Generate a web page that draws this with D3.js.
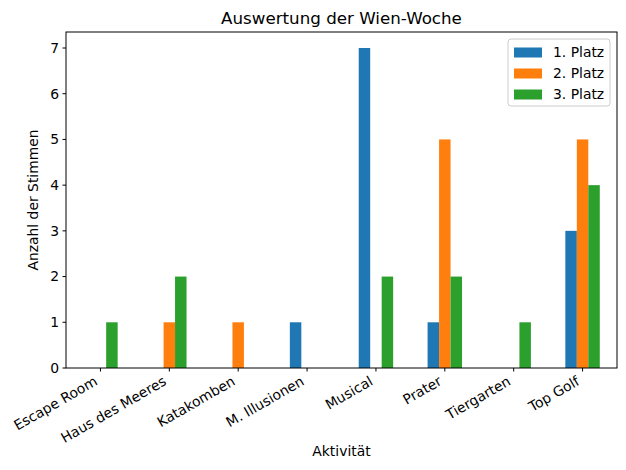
<!DOCTYPE html>
<html>
<head>
<meta charset="utf-8">
<script src="https://cdn.jsdelivr.net/npm/d3@7"></script>
<style>
  body { margin: 0; background: #fff; }
  svg { font-family: "DejaVu Sans", sans-serif; }
</style>
</head>
<body>
<svg id="chart" width="626" height="470"></svg>
<script>
const categories = ["Escape Room", "Haus des Meeres", "Katakomben", "M. Illusionen", "Musical", "Prater", "Tiergarten", "Top Golf"];
const seriesNames = ["1. Platz", "2. Platz", "3. Platz"];
const platz1 = [0, 0, 0, 1, 7, 1, 0, 3];
const platz2 = [0, 1, 1, 0, 0, 5, 0, 5];
const platz3 = [1, 2, 0, 0, 2, 2, 1, 4];
const yTicks = [0, 1, 2, 3, 4, 5, 6, 7];
const colors = ["#1f77b4", "#ff7f0e", "#2ca02c"];

const svg = d3.select("#chart");
const margin = { left: 66, right: 9, top: 32, bottom: 102 };
const width = 626 - margin.left - margin.right;
const height = 470 - margin.top - margin.bottom;
const fs = 13.9;

const series = [platz1, platz2, platz3];

// x: positions 0..7 with half-unit padding like pandas
const x = d3.scaleLinear().domain([-0.5, categories.length - 0.5]).range([0, width]);
const y = d3.scaleLinear().domain([0, 7 * 1.05]).range([height, 0]);

const g = svg.append("g").attr("transform", `translate(${margin.left},${margin.top})`);

const barW = 0.5 / series.length;
series.forEach((vals, j) => {
  g.selectAll(".bar" + j)
    .data(vals.map((v, i) => ({ v, i })))
    .enter()
    .append("rect")
    .attr("x", d => x(d.i - 0.25 + j * barW))
    .attr("width", x(barW) - x(0))
    .attr("y", d => y(d.v))
    .attr("height", d => y(0) - y(d.v))
    .attr("fill", colors[j]);
});

// frame
g.append("rect")
  .attr("width", width).attr("height", height)
  .attr("fill", "none").attr("stroke", "#000").attr("stroke-width", 1);

// y axis
const yAxis = g.append("g");
yTicks.forEach(t => {
  yAxis.append("line")
    .attr("x1", -3.5).attr("x2", 0)
    .attr("y1", y(t)).attr("y2", y(t))
    .attr("stroke", "#000");
  yAxis.append("text")
    .attr("x", -7).attr("y", y(t))
    .attr("dy", "0.35em")
    .attr("text-anchor", "end")
    .attr("font-size", fs)
    .text(t);
});

// x axis
const xAxis = g.append("g").attr("transform", `translate(0,${height})`);
categories.forEach((c, i) => {
  xAxis.append("line")
    .attr("x1", x(i)).attr("x2", x(i))
    .attr("y1", 0).attr("y2", 3.5)
    .attr("stroke", "#000");
  xAxis.append("text")
    .attr("transform", `translate(${x(i) - 2},${16}) rotate(-30)`)
    .attr("text-anchor", "end")
    .attr("font-size", fs)
    .text(c);
});

// titles
svg.append("text")
  .attr("x", margin.left + width / 2).attr("y", 24)
  .attr("text-anchor", "middle")
  .attr("font-size", 16.7)
  .text("Auswertung der Wien-Woche");

svg.append("text")
  .attr("x", margin.left + width / 2).attr("y", 456)
  .attr("text-anchor", "middle")
  .attr("font-size", fs)
  .text("Aktivität");

svg.append("text")
  .attr("transform", `translate(38,${margin.top + height / 2}) rotate(-90)`)
  .attr("text-anchor", "middle")
  .attr("font-size", fs)
  .text("Anzahl der Stimmen");

// legend
const legend = svg.append("g").attr("transform", "translate(508,39)");
legend.append("rect")
  .attr("width", 102).attr("height", 67)
  .attr("rx", 3).attr("ry", 3)
  .attr("fill", "#fff").attr("fill-opacity", 0.8)
  .attr("stroke", "#cccccc");
seriesNames.forEach((name, j) => {
  const ly = 12 + j * 21;
  legend.append("rect")
    .attr("x", 6).attr("y", ly - 3.5)
    .attr("width", 28).attr("height", 10)
    .attr("fill", colors[j]);
  legend.append("text")
    .attr("x", 45).attr("y", ly + 1.5)
    .attr("dy", "0.35em")
    .attr("font-size", fs)
    .text(name);
});
</script>
</body>
</html>
